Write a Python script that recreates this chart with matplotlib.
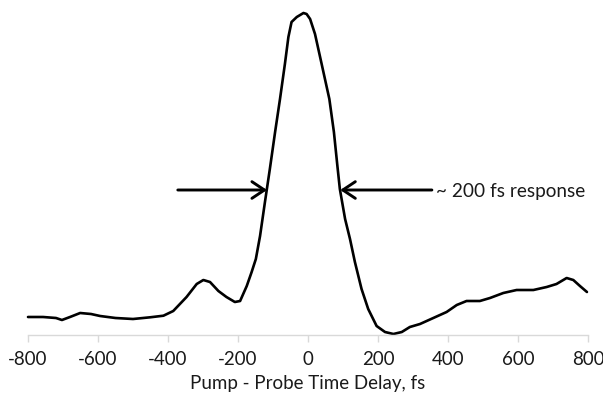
import matplotlib
matplotlib.use("Agg")
import matplotlib.pyplot as plt

plt.rcParams['font.family'] = ['Lato', 'DejaVu Sans']

# pump-probe delay (fs) and signal (arb. units)
delay = [-800, -757, -720, -703, -680, -651, -620, -594, -550, -500, -451, -413,
         -385, -347, -318, -299, -280, -256, -233, -209, -194, -175, -161, -149,
         -137, -123, -109, -94, -80, -66, -56, -47, -32, -13, -4, 6, 20, 39, 61,
         74, 84, 91, 106, 120, 134, 153, 172, 196, 220, 244, 268, 291, 320, 358,
         396, 425, 453, 491, 520, 558, 596, 644, 682, 710, 739, 758, 777, 797]
signal = [18, 18, 17, 15, 18, 22, 21, 19, 17, 16, 17.7, 19.3,
          24, 38, 51, 55, 53, 44, 38, 33, 34, 49, 63, 76,
          99, 133, 166, 203, 236, 271, 298, 313, 318, 322, 321, 316, 301, 271, 236,
          203, 169, 146, 116, 96, 73, 46, 26, 9, 3, 1, 3, 8, 11, 17,
          23, 30, 34, 34, 37, 42, 45, 45, 48, 51, 57, 55, 49, 43]

xticks = [-800, -600, -400, -200, 0, 200, 400, 600, 800]
fwhm_left, fwhm_right, fwhm_level = -117, 92, 145

fig = plt.figure(figsize=(6.03, 4.02), dpi=100)
ax = fig.add_axes([28 / 603, 66 / 402, 560 / 603, 336 / 402])

ax.plot(delay, signal, color='black', lw=1.9, clip_on=False,
        solid_joinstyle='round', solid_capstyle='round')

ax.set_xlim(-800, 800)
ax.set_ylim(0, 336)
ax.set_xticks(xticks)
ax.set_xticklabels([str(t) for t in xticks])
ax.set_yticks([])
for s in ['left', 'right', 'top']:
    ax.spines[s].set_visible(False)
ax.spines['bottom'].set_color('#d9d9d9')
ax.spines['bottom'].set_linewidth(1.0)
ax.tick_params(axis='x', colors='#d9d9d9', length=5, width=1, pad=6,
               labelsize=13.5, labelcolor='#1a1a1a')
ax.set_xlabel('Pump - Probe Time Delay, fs', fontsize=13.5, color='#1a1a1a', labelpad=5)

arrow = dict(arrowstyle='->, head_length=0.45, head_width=0.3', lw=2.1,
             color='black', mutation_scale=20, shrinkA=0, shrinkB=0)
ax.annotate('', xy=(fwhm_left, fwhm_level), xytext=(-372, fwhm_level), arrowprops=arrow)
ax.annotate('', xy=(fwhm_right, fwhm_level), xytext=(354, fwhm_level), arrowprops=arrow)
ax.text(366, fwhm_level, '~ 200 fs response', fontsize=13.7, color='#1a1a1a',
        va='center', ha='left')

fig.savefig('out.png', dpi=100)
